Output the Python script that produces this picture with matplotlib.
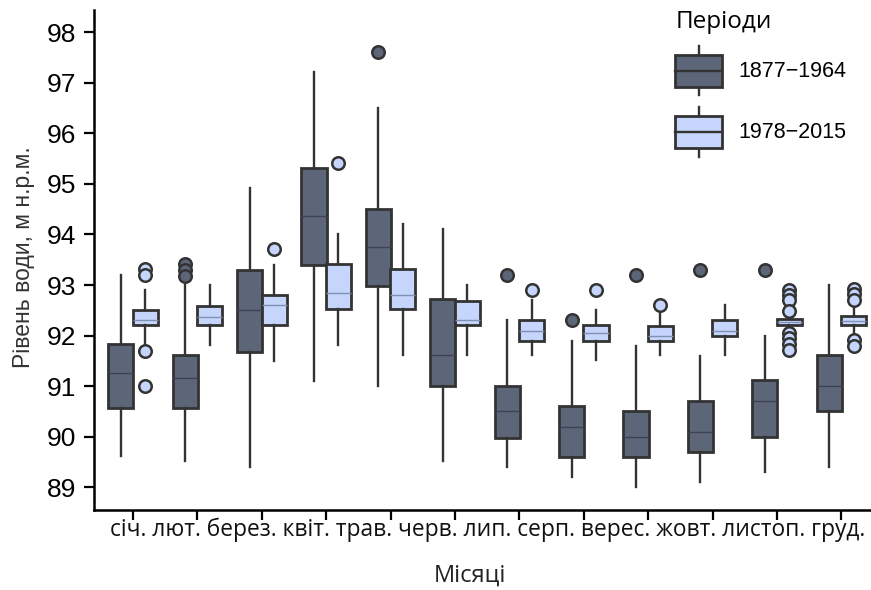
import numpy as np
import matplotlib
matplotlib.use("Agg")
import matplotlib.pyplot as plt
from matplotlib.patches import Rectangle
from matplotlib.lines import Line2D
from matplotlib.legend_handler import HandlerBase

months = ["січ.", "лют.", "берез.", "квіт.", "трав.", "черв.",
          "лип.", "серп.", "верес.", "жовт.", "листоп.", "груд."]
periods = ["1877−1964", "1978−2015"]

# 1877-1964
dark_q1 = [90.57, 90.57, 91.67, 93.40, 92.99, 91.00, 89.98, 89.59, 89.59, 89.69, 90.00, 90.51]
dark_med = [91.26, 91.16, 92.51, 94.37, 93.76, 91.61, 90.51, 90.20, 90.00, 90.10, 90.71, 91.00]
dark_q3 = [91.83, 91.61, 93.30, 95.31, 94.51, 92.72, 91.00, 90.61, 90.51, 90.71, 91.12, 91.61]
dark_lo = [89.61, 89.51, 89.41, 91.11, 91.01, 89.51, 89.41, 89.21, 89.01, 89.11, 89.31, 89.41]
dark_hi = [93.20, 93.00, 94.91, 97.21, 96.51, 94.10, 92.30, 91.89, 91.80, 91.60, 92.00, 93.00]
dark_fliers = [[], [93.41, 93.30, 93.18], [], [], [97.60], [], [93.20], [92.30],
               [93.20], [93.30], [93.30], []]

# 1978-2015
light_q1 = [92.20, 92.20, 92.20, 92.53, 92.53, 92.21, 91.89, 91.89, 91.89, 92.00, 92.20, 92.20]
light_med = [92.30, 92.36, 92.60, 92.85, 92.80, 92.30, 92.10, 92.06, 92.00, 92.10, 92.26, 92.29]
light_q3 = [92.51, 92.58, 92.80, 93.41, 93.31, 92.69, 92.31, 92.21, 92.18, 92.31, 92.32, 92.38]
light_lo = [91.78, 91.82, 91.50, 91.82, 91.61, 91.61, 91.61, 91.51, 91.61, 91.61, 92.12, 92.00]
light_hi = [92.90, 93.00, 93.40, 94.00, 94.20, 93.00, 92.71, 92.51, 92.45, 92.60, 92.42, 92.62]
light_fliers = [[93.31, 93.20, 91.70, 91.00], [], [93.71], [95.41], [], [], [92.90], [92.90],
                [92.60], [], [92.90, 92.80, 92.71, 92.49, 92.05, 91.95, 91.83, 91.72],
                [92.93, 92.82, 92.71, 91.91, 91.79]]

dark_col = '#5d6579'
light_col = '#c5d5fc'
edge = '#333333'

plt.rcParams['font.family'] = ['Liberation Sans', 'DejaVu Sans']

fig = plt.figure(figsize=(8.71, 5.90), dpi=100)
ax = fig.add_axes([0.108, 0.1356, 0.892, 0.8475])


def make_stats(q1, med, q3, lo, hi, fl):
    return [dict(q1=q1[i], med=med[i], q3=q3[i], whislo=lo[i], whishi=hi[i],
                 fliers=fl[i]) for i in range(len(q1))]


x = np.arange(len(months))
off = 0.19
for stats, col, mcol, pos in [
        (make_stats(dark_q1, dark_med, dark_q3, dark_lo, dark_hi, dark_fliers), dark_col, '#3c4252', x - off),
        (make_stats(light_q1, light_med, light_q3, light_lo, light_hi, light_fliers), light_col, '#8090b0', x + off)]:
    ax.bxp(stats, positions=pos, widths=0.39, patch_artist=True, showcaps=False,
           boxprops=dict(facecolor=col, edgecolor=edge, linewidth=2.0),
           whiskerprops=dict(color=edge, linewidth=1.7),
           medianprops=dict(color=mcol, linewidth=1.0),
           flierprops=dict(marker='o', markerfacecolor=col, markeredgecolor=edge,
                           markersize=9, markeredgewidth=1.8))

ax.set_xlim(-0.606, 11.46)
ax.set_ylim(88.55, 98.44)
ax.set_yticks(np.arange(89, 99))
ax.set_xticks(x)
ax.set_xticklabels([''] * len(months))
ax.tick_params(axis='both', direction='out', length=7, width=1.6, labelsize=19)
ax.tick_params(axis='y', pad=6)
for s in ['top', 'right']:
    ax.spines[s].set_visible(False)
for s in ['left', 'bottom']:
    ax.spines[s].set_linewidth(1.8)

# month labels laid out as one line, like the original
fig.text(0.5603, 0.1017, " ".join(months), ha='center', va='center',
         fontsize=16.4, family=['Open Sans', 'DejaVu Sans'], color='#111111')
fig.text(0.5396, 0.0237, "Місяці", ha='center', va='center', fontsize=17,
         family=['Open Sans', 'DejaVu Sans'], color='#222222')
fig.text(0.0275, 0.565, "Рівень води, м н.р.м.", ha='center', va='center', rotation=90,
         fontsize=16.5, color='#333333')


class BoxHandler(HandlerBase):
    def __init__(self, col, mcol):
        super().__init__()
        self.col = col
        self.mcol = mcol

    def create_artists(self, legend, orig_handle, xdescent, ydescent, width, height,
                       fontsize, trans):
        x0, y0 = -xdescent, -ydescent
        cx = x0 + width / 2
        rect = Rectangle((x0, y0 + 0.18 * height), width, 0.64 * height,
                         facecolor=self.col, edgecolor=edge, linewidth=2.0, transform=trans)
        med = Line2D([x0, x0 + width], [y0 + 0.5 * height] * 2, color=edge,
                     linewidth=1.7, transform=trans)
        w1 = Line2D([cx, cx], [y0, y0 + 0.18 * height], color=edge, linewidth=1.7, transform=trans)
        w2 = Line2D([cx, cx], [y0 + 0.82 * height, y0 + height], color=edge,
                    linewidth=1.7, transform=trans)
        return [w1, w2, rect, med]


h1 = Rectangle((0, 0), 1, 1)
h2 = Rectangle((0, 0), 1, 1)
leg = ax.legend([h1, h2], periods, title="Періоди",
                handler_map={h1: BoxHandler(dark_col, '#3c4252'), h2: BoxHandler(light_col, '#8090b0')},
                loc='upper left', bbox_to_anchor=(0.748, 1.0), frameon=False,
                fontsize=15.5, handlelength=2.17, handleheight=3.17, labelspacing=0.55,
                handletextpad=0.75, borderaxespad=0, borderpad=0)
leg.get_title().set_fontsize(17.5)
leg.get_title().set_family(['Open Sans', 'DejaVu Sans'])
leg._legend_box.align = "left"

fig.savefig("out.png", dpi=100)
